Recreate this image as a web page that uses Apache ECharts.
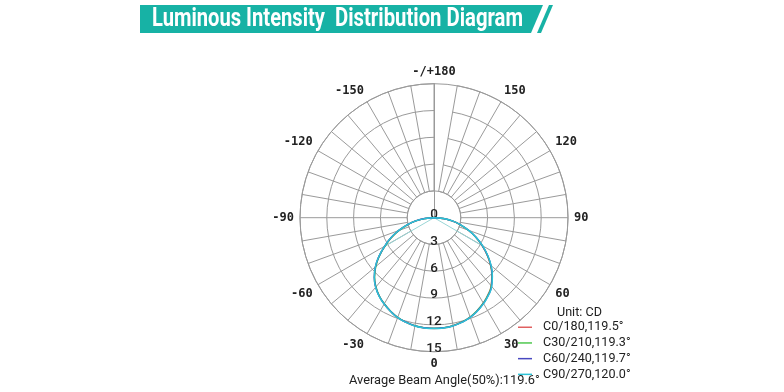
<!DOCTYPE html>
<html>
<head>
<meta charset="utf-8">
<script src="https://cdn.jsdelivr.net/npm/echarts@6/dist/echarts.min.js"></script>
<style>html,body{margin:0;padding:0;background:#fff;}#main{width:784px;height:392px;}</style>
</head>
<body>
<div id="main"></div>
<script>
// ---- data ----
const angles = [-90,-85,-80,-75,-70,-65,-60,-55,-50,-45,-40,-35,-30,-25,-20,-15,-10,-5,0,5,10,15,20,25,30,35,40,45,50,55,60,65,70,75,80,85,90];
const c0   = [0,1.00,2.10,3.10,4.20,5.30,6.35,7.50,8.55,9.45,10.15,10.70,11.15,11.55,11.90,12.12,12.30,12.38,12.40,12.38,12.28,12.09,11.84,11.47,11.04,10.54,9.95,9.15,8.25,7.25,6.20,5.15,4.09,3.04,2.05,0.99,0];
const c30  = [0,0.98,2.05,3.05,4.15,5.25,6.30,7.45,8.50,9.40,10.10,10.68,11.12,11.52,11.88,12.10,12.28,12.36,12.38,12.36,12.27,12.08,11.83,11.46,11.03,10.55,9.97,9.18,8.28,7.28,6.22,5.17,4.10,3.05,2.06,1.00,0];
const c60  = [0,1.01,2.08,3.12,4.22,5.32,6.36,7.50,8.56,9.44,10.14,10.70,11.14,11.54,11.89,12.11,12.29,12.37,12.39,12.37,12.29,12.10,11.86,11.50,11.08,10.60,10.02,9.22,8.32,7.30,6.25,5.19,4.12,3.07,2.07,1.01,0];
const c90  = [0,1.02,2.10,3.14,4.24,5.34,6.38,7.52,8.58,9.46,10.16,10.72,11.16,11.56,11.91,12.13,12.31,12.39,12.41,12.39,12.30,12.12,11.88,11.52,11.10,10.62,10.05,9.25,8.35,7.33,6.28,5.22,4.14,3.08,2.08,1.02,0];
const seriesNames = ['C0/180,119.5°','C30/210,119.3°','C60/240,119.7°','C90/270,120.0°'];
const seriesColors = ['#e06060','#50c850','#4848c0','#2cc4d8'];
const beamLeft  = [[0,-59.8],[6.25,-59.8]];
const beamRight = [[0,59.8],[6.25,59.8]];
const radiusTicks = [0,3,6,9,12,15];
const angleLabelMap = {'-180':'-/+180','-150':'-150','-120':'-120','-90':'-90','-60':'-60','-30':'-30','0':'0','30':'30','60':'60','90':'90','120':'120','150':'150'};
const titleParts = ['Luminous Intensity', 'Distribution Diagram'];
const unitText = 'Unit: CD';
const beamText = 'Average Beam Angle(50%):119.6°';
const spokes = [];
for (let a = -180; a < 180; a += 10) spokes.push(String(a));

const CX = 434, CY = 217.7, R = 134, R0 = 26.8;
const gridColor = '#9a9a9a';

// fit text widths (layout only)
const TITLE_FONT = 'bold 26px Roboto';
const mctx = document.createElement('canvas').getContext('2d');
mctx.font = TITLE_FONT;
const s1 = 173 / mctx.measureText(titleParts[0]).width;
const s2 = 188 / mctx.measureText(titleParts[1]).width;
mctx.font = '14px Roboto';
const beamFs = Math.min(14, 14 * 191 / mctx.measureText(beamText).width);
const legendFs = Math.min(13.5, Math.max(12.6, 14 * 85 / mctx.measureText(seriesNames[3]).width));

const chart = echarts.init(document.getElementById('main'), null, {renderer: 'canvas'});
const allSeries = [c0, c30, c60, c90];
const series = allSeries.map((arr, k) => ({
  name: seriesNames[k], type: 'line', coordinateSystem: 'polar', polarIndex: 1,
  data: arr.map((v, i) => [v, angles[i]]),
  smooth: true, showSymbol: false, symbol: 'none',
  lineStyle: {color: seriesColors[k], width: 1.4},
  itemStyle: {color: seriesColors[k]},
  z: 3 + k, animation: false
}));
[beamLeft, beamRight].forEach(b => series.push({
  name: 'beam', type: 'line', coordinateSystem: 'polar', polarIndex: 1,
  data: b, showSymbol: false, symbol: 'none',
  lineStyle: {color: '#9ad6d6', width: 1}, z: 2, animation: false
}));

chart.setOption({
  animation: false,
  backgroundColor: '#fff',
  title: [
    {text: unitText, left: 557, top: 306, padding: 0, textStyle: {fontFamily: 'Roboto', fontSize: legendFs, fontWeight: 'normal', color: '#222'}},
    {text: beamText, left: 349, top: 374, padding: 0, textStyle: {fontFamily: 'Roboto', fontSize: beamFs, fontWeight: 'normal', color: '#222'}}
  ],
  legend: {
    data: seriesNames, orient: 'vertical', left: 518, top: 320, padding: 0,
    icon: 'rect', itemWidth: 14, itemHeight: 1.5, itemGap: 1.2,
    textStyle: {fontFamily: 'Roboto', fontSize: legendFs, color: '#222', lineHeight: 14.5, padding: [0,0,0,6]},
    selectedMode: false
  },
  polar: [
    {center: [CX, CY], radius: [R0, R]},
    {center: [CX, CY], radius: [0, R]},
    {center: [CX, CY], radius: [0, R]}
  ],
  angleAxis: [
    {polarIndex: 0, type: 'category', data: spokes, boundaryGap: false, startAngle: 90, clockwise: false,
     axisLine: {show: true, lineStyle: {color: gridColor, width: 1}},
     axisTick: {show: false, interval: (i) => i !== 18},
     axisLabel: {show: true, interval: (i) => i % 3 === 0, margin: 6,
       formatter: (v) => angleLabelMap[v] || '',
       fontFamily: 'DejaVu Sans Mono', fontWeight: 'bold', fontSize: 12, color: '#222'},
     splitLine: {show: true, lineStyle: {color: gridColor, width: 1}}
    },
    {polarIndex: 1, type: 'value', min: -180, max: 180, startAngle: 90, clockwise: false, show: false},
    {polarIndex: 2, type: 'value', min: 0, max: 360, startAngle: 270, show: false}
  ],
  radiusAxis: [
    {polarIndex: 0, type: 'value', min: 3, max: 15, interval: 3,
     axisLine: {show: false}, axisTick: {show: false}, axisLabel: {show: false},
     splitLine: {show: true, lineStyle: {color: gridColor, width: 1}}},
    {polarIndex: 1, type: 'value', min: 0, max: 15,
     axisLine: {show: true, lineStyle: {color: gridColor, width: 1}}, axisTick: {show: false}, axisLabel: {show: false},
     splitLine: {show: false}},
    {polarIndex: 2, type: 'value', min: 0, max: 15, interval: 3,
     axisLine: {show: false}, axisTick: {show: false}, splitLine: {show: false},
     axisLabel: {show: true, margin: 0, align: 'center', verticalAlign: 'bottom', lineHeight: 6,
       formatter: (v) => radiusTicks.indexOf(v) >= 0 ? String(v) : '',
       fontFamily: 'Roboto', fontWeight: 500, fontSize: 13.5, color: '#222'}}
  ],
  graphic: [
    {type: 'polygon', shape: {points: [[140,5],[543,5],[531,33],[140,33]]}, style: {fill: '#17b2a5'}, z: 10},
    {type: 'polygon', shape: {points: [[549,5],[553,5],[541,33],[537,33]]}, style: {fill: '#17b2a5'}, z: 10},
    {type: 'text', x: 152, y: 19, scaleX: s1, z: 11,
     style: {text: titleParts[0], fill: '#fff', font: TITLE_FONT, verticalAlign: 'middle'}},
    {type: 'text', x: 335, y: 19, scaleX: s2, z: 11,
     style: {text: titleParts[1], fill: '#fff', font: TITLE_FONT, verticalAlign: 'middle'}}
  ],
  series: series
});
</script>
</body>
</html>
